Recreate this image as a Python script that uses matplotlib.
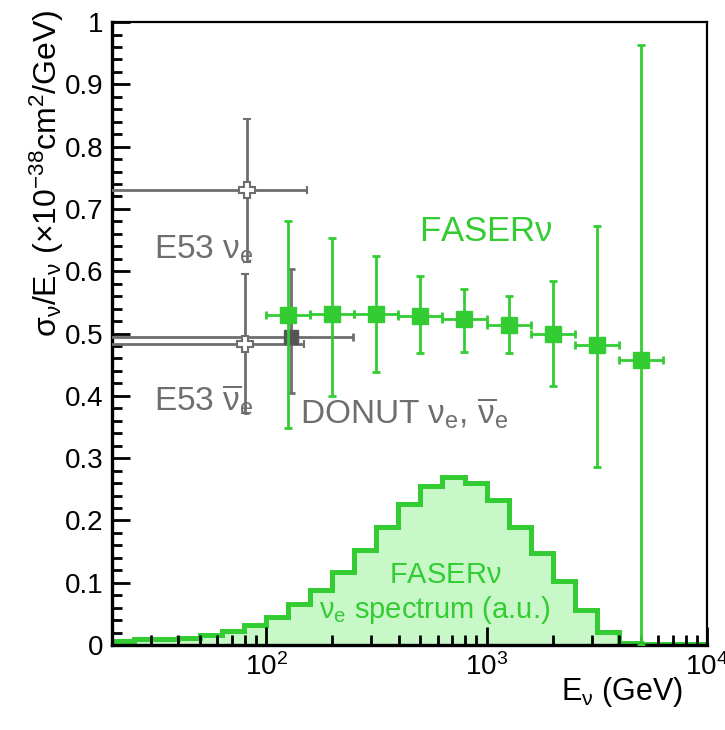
import matplotlib
matplotlib.use("Agg")
import matplotlib.pyplot as plt
from matplotlib.ticker import MultipleLocator, LogLocator, NullFormatter, FuncFormatter

plt.rcParams['font.family'] = ['Liberation Sans', 'DejaVu Sans']
plt.rcParams['mathtext.fontset'] = 'custom'
plt.rcParams['mathtext.rm'] = 'Liberation Sans'
plt.rcParams['mathtext.it'] = 'Liberation Sans'
plt.rcParams['mathtext.default'] = 'regular'

# FASERnu expected nu_e spectrum (a.u.), bins in log10(E/GeV)
spec_log_edges = [1.3, 1.4, 1.5, 1.6, 1.7, 1.8, 1.9, 2.0, 2.1, 2.2, 2.3, 2.4, 2.5, 2.6,
                  2.7, 2.8, 2.9, 3.0, 3.1, 3.2, 3.3, 3.4, 3.5, 3.6, 3.7, 3.8, 3.9, 4.0]
spec_values = [0.0064, 0.0096, 0.0096, 0.012, 0.016, 0.0225, 0.032, 0.045, 0.066,
               0.089, 0.118, 0.152, 0.190, 0.227, 0.255, 0.270, 0.260, 0.233, 0.190,
               0.148, 0.102, 0.057, 0.021, 0.004, 0.002, 0.001, 0.001]

# FASERnu projected cross section / E
faser_e = [126, 200, 316, 501, 794, 1259, 1995, 3162, 5012]
faser_e_lo = [100, 158, 251, 398, 631, 1000, 1585, 2512, 3981]
faser_e_hi = [158, 251, 398, 631, 1000, 1585, 2512, 3981, 6310]
faser_xs = [0.530, 0.532, 0.532, 0.528, 0.523, 0.514, 0.499, 0.482, 0.457]
faser_xs_lo = [0.348, 0.400, 0.439, 0.468, 0.470, 0.468, 0.416, 0.286, 0.0]
faser_xs_hi = [0.681, 0.653, 0.624, 0.593, 0.571, 0.560, 0.585, 0.673, 0.963]

# previous measurements
e53_nu_e, e53_nu_eerr, e53_nu_xs, e53_nu_xserr = 82, 71, 0.730, 0.115
e53_nubar_e, e53_nubar_eerr, e53_nubar_xs, e53_nubar_xserr = 80, 68, 0.484, 0.111
donut_e, donut_eerr = 130, 119
donut_xs, donut_xs_lo, donut_xs_hi = 0.494, 0.405, 0.603

green = '#33cc33'
fill_green = '#c8f7c8'
gray = '#6e6e6e'

fig = plt.figure(figsize=(7.25, 7.3), dpi=100)
ax = fig.add_axes([0.1545, 0.1164, 0.8207, 0.8534])

# spectrum histogram
edges = [10 ** v for v in spec_log_edges]
ax.stairs(spec_values, edges, fill=True, color=fill_green, lw=0, zorder=1)
ax.stairs(spec_values, edges, color=green, lw=3.6, zorder=1.5)

# E53 and DONUT
ax.errorbar([e53_nu_e], [e53_nu_xs], xerr=[e53_nu_eerr], yerr=[e53_nu_xserr],
            fmt='P', color=gray, mfc='white', mec=gray, mew=1.5, ms=11,
            elinewidth=2, capsize=3, capthick=2, zorder=3)
ax.errorbar([e53_nubar_e], [e53_nubar_xs], xerr=[e53_nubar_eerr], yerr=[e53_nubar_xserr],
            fmt='P', color=gray, mfc='white', mec=gray, mew=1.5, ms=11,
            elinewidth=2, capsize=3, capthick=2, zorder=3)
ax.errorbar([donut_e], [donut_xs], xerr=[donut_eerr],
            yerr=[[donut_xs - donut_xs_lo], [donut_xs_hi - donut_xs]],
            fmt='s', color=gray, mfc='#555555', mec='#555555', ms=10,
            elinewidth=2, capsize=3, capthick=2, zorder=3)

# FASERnu points
xerr = [[e - lo for e, lo in zip(faser_e, faser_e_lo)],
        [hi - e for e, hi in zip(faser_e, faser_e_hi)]]
yerr = [[y - lo for y, lo in zip(faser_xs, faser_xs_lo)],
        [hi - y for y, hi in zip(faser_xs, faser_xs_hi)]]
ax.errorbar(faser_e, faser_xs, xerr=xerr, yerr=yerr, fmt='s', color=green,
            ms=11, elinewidth=2, capsize=3, capthick=2, zorder=4)

ax.set_xscale('log')
ax.set_xlim(20, 1e4)
ax.set_ylim(0, 1)

ax.yaxis.set_major_locator(MultipleLocator(0.1))
ax.yaxis.set_minor_locator(MultipleLocator(0.02))
ax.yaxis.set_major_formatter(FuncFormatter(lambda v, p: '%g' % round(v, 2)))
ax.xaxis.set_minor_locator(LogLocator(base=10, subs=range(2, 10)))
ax.xaxis.set_minor_formatter(NullFormatter())

ax.tick_params(which='both', direction='in', top=False, right=False, width=2)
ax.tick_params(which='major', length=13, labelsize=20, pad=6)
ax.tick_params(which='minor', length=7)
for s in ax.spines.values():
    s.set_linewidth(1.6)
ax.spines['left'].set_linewidth(2.4)
ax.spines['bottom'].set_linewidth(2.4)

ax.set_ylabel(r'$\sigma_\nu/E_\nu$ ($\times10^{-38}$cm$^2$/GeV)', fontsize=23, loc='top')
ax.yaxis.set_label_coords(-0.078, 1.02)
ax.set_xlabel(r'$E_\nu$ (GeV)', fontsize=22, loc='right')
ax.xaxis.set_label_coords(0.96, -0.048)

ax.text(31, 0.621, r'E53 $\nu_e$', fontsize=24, color=gray)
ax.text(31, 0.377, r'E53 $\overline{\nu}_e$', fontsize=24, color=gray)
ax.text(142, 0.356, r'DONUT $\nu_e$, $\overline{\nu}_e$', fontsize=24, color=gray)
ax.text(492, 0.649, r'FASER$\nu$', fontsize=25, color=green)
ax.text(652, 0.0995, r'FASER$\nu$', fontsize=21, color=green, ha='center')
ax.text(582, 0.043, r'$\nu_e$ spectrum (a.u.)', fontsize=21, color=green, ha='center')

fig.savefig('out.png', dpi=100)
